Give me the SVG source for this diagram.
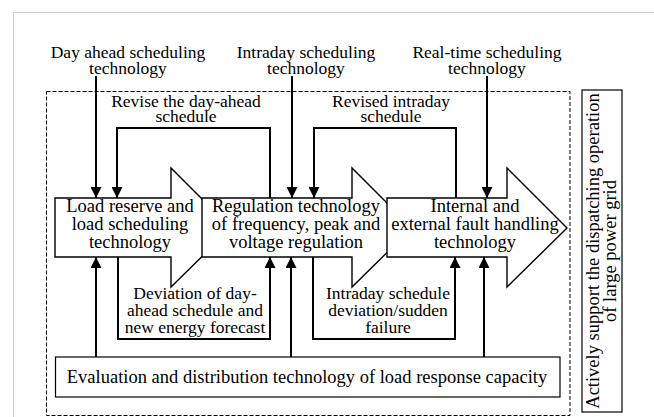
<svg xmlns="http://www.w3.org/2000/svg" width="654" height="417" viewBox="0 0 654 417">
<defs>
<style>
text{font-family:"Liberation Serif","Times New Roman",serif;fill:#000;text-anchor:middle}
.n{font-size:18.5px}
.e{font-size:17.5px}
.shape{fill:#fff;stroke:#000;stroke-width:1.4}
.ln{fill:none;stroke:#000;stroke-width:2}
</style>
<marker id="ah" markerUnits="userSpaceOnUse" markerWidth="11" markerHeight="11" refX="10" refY="5" orient="auto" viewBox="0 0 10 10">
<path d="M0,0 L10,5 L0,10 z" fill="#000"/>
</marker>
</defs>
<rect width="654" height="417" fill="#fff"/>
<rect x="13.5" y="12.5" width="700" height="500" fill="none" stroke="#d0d0d0" stroke-width="1"/>
<rect id="scope" x="46.5" y="91.5" width="523.5" height="324" fill="none" stroke="#000" stroke-width="1" stroke-dasharray="4,2"/>

<g id="load-reserve">
<polygon class="shape" points="55,198 171,198 171,168 231,228 171,287 171,257 55,257"/>
<text class="n" x="130" y="212">Load reserve and</text>
<text class="n" x="130" y="230">load scheduling</text>
<text class="n" x="130" y="248">technology</text>
</g>
<g id="regulation">
<polygon class="shape" points="202,198 352,198 352,168 412,228 352,287 352,257 202,257"/>
<text class="n" x="296" y="212">Regulation technology</text>
<text class="n" x="296" y="230">of frequency, peak and</text>
<text class="n" x="296" y="248">voltage regulation</text>
</g>
<g id="fault-handling">
<polygon class="shape" points="387,198 507,198 507,168 567,228 507,287 507,257 387,257"/>
<text class="n" x="475" y="212">Internal and</text>
<text class="n" x="475" y="230">external fault handling</text>
<text class="n" x="475" y="248">technology</text>
</g>
<g id="evaluation">
<rect x="55.5" y="357" width="504.5" height="40" fill="#fff" stroke="#000" stroke-width="1.2"/>
<text class="n" x="307" y="383">Evaluation and distribution technology of load response capacity</text>
</g>
<g id="support">
<rect x="582" y="90" width="40" height="322" fill="#fff" stroke="#000" stroke-width="1.2"/>
<text class="n" transform="translate(599,251) rotate(-90)">Actively support the dispatching operation</text>
<text class="n" transform="translate(616,251) rotate(-90)">of large power grid</text>
</g>
<g id="day-ahead">
<text class="e" x="128" y="58">Day ahead scheduling</text>
<text class="e" x="128" y="74">technology</text>
</g>
<g id="intraday">
<text class="e" x="306" y="58">Intraday scheduling</text>
<text class="e" x="306" y="74">technology</text>
</g>
<g id="real-time">
<text class="e" x="487" y="58">Real-time scheduling</text>
<text class="e" x="487" y="74">technology</text>
</g>

<g id="connectors">
<path class="ln" d="M96,76 V198" marker-end="url(#ah)"/>
<path class="ln" d="M292,76 V198" marker-end="url(#ah)"/>
<path class="ln" d="M487,76 V198" marker-end="url(#ah)"/>
<path class="ln" d="M270,198 V128 H117 V198" marker-end="url(#ah)"/>
<path class="ln" d="M456,198 V128 H314 V198" marker-end="url(#ah)"/>
<path class="ln" d="M118,257 V339 H270 V257" marker-end="url(#ah)"/>
<path class="ln" d="M313,257 V339 H455 V257" marker-end="url(#ah)"/>
<path class="ln" d="M96,357 V257" marker-end="url(#ah)"/>
<path class="ln" d="M291,357 V257" marker-end="url(#ah)"/>
<path class="ln" d="M484,357 V257" marker-end="url(#ah)"/>
<text class="e" x="186" y="107">Revise the day-ahead</text>
<text class="e" x="186" y="122">schedule</text>
<text class="e" x="391" y="107">Revised intraday</text>
<text class="e" x="391" y="122">schedule</text>
<text class="e" x="195" y="299">Deviation of day-</text>
<text class="e" x="195" y="316">ahead schedule and</text>
<text class="e" x="195" y="333">new energy forecast</text>
<text class="e" x="388" y="299">Intraday schedule</text>
<text class="e" x="388" y="316">deviation/sudden</text>
<text class="e" x="388" y="333">failure</text>
</g>
</svg>
